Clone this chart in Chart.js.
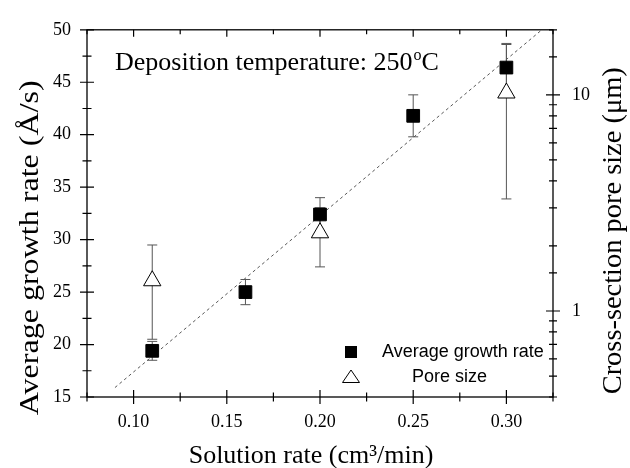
<!DOCTYPE html>
<html>
<head>
<meta charset="UTF-8">
<title>Growth rate vs solution rate</title>
<script src="https://cdn.jsdelivr.net/npm/chart.js@4"></script>
<style>
  html, body { margin: 0; padding: 0; background: #fff; }
  #wrap { width: 630px; height: 468px; position: relative; }
</style>
</head>
<body>
<div id="wrap"><canvas id="chart"></canvas></div>
<script>
// data
const solutionRate = [0.11, 0.16, 0.20, 0.25, 0.30];
const growthRate   = [19.4, 25.0, 32.4, 41.8, 46.4];
const growthErr    = [0.9, 1.2, 1.6, 2.0, 2.3];
const poreRate     = [0.11, 0.20, 0.30];
const poreSize     = [1.38, 2.30, 10.2];
const poreErr      = [0.64, 0.70, 6.9];
const fitRate      = [0.09, 0.319];
const fitGrowth    = [15.9, 50];
const xTickLabels  = ['0.10', '0.15', '0.20', '0.25', '0.30'];
const yTickLabels  = [15, 20, 25, 30, 35, 40, 45, 50];
const poreTickLabels = [1, 10];

const serif = "'Liberation Serif', 'Times New Roman', serif";
const sans = "'Liberation Sans', Arial, sans-serif";
const near = (a, b) => Math.abs(a - b) < 1e-6;

const errorBars = {
  id: 'errorBars',
  beforeDatasetDraw(chart, args) {
    if (args.index !== 1) return;
    const { ctx, scales } = chart;
    const x = scales.x;
    const draw = (xs, ys, es, yScale) => {
      xs.forEach((v, i) => {
        const px = x.getPixelForValue(v);
        const top = yScale.getPixelForValue(ys[i] + es[i]);
        const bot = yScale.getPixelForValue(ys[i] - es[i]);
        ctx.beginPath();
        ctx.moveTo(px, top); ctx.lineTo(px, bot);
        ctx.moveTo(px - 5, top); ctx.lineTo(px + 5, top);
        ctx.moveTo(px - 5, bot); ctx.lineTo(px + 5, bot);
        ctx.stroke();
      });
    };
    ctx.save();
    ctx.strokeStyle = '#555';
    ctx.lineWidth = 1;
    draw(solutionRate, growthRate, growthErr, scales.y);
    draw(poreRate, poreSize, poreErr, scales.y2);
    ctx.restore();
  }
};

// rotated title, stretched along its length to the span seen in the figure
function sideTitle(ctx, text, x, y, span) {
  ctx.save();
  ctx.translate(x, y);
  ctx.rotate(-Math.PI / 2);
  const w = ctx.measureText(text).width;
  ctx.scale(span / w, 1);
  ctx.fillText(text, 0, 0);
  ctx.restore();
}

const frame = {
  id: 'frame',
  afterDraw(chart) {
    const { ctx, chartArea: ca, scales } = chart;
    ctx.save();
    ctx.strokeStyle = '#000';
    ctx.lineWidth = 1.3;
    ctx.strokeRect(ca.left, ca.top, ca.right - ca.left, ca.bottom - ca.top);

    ctx.lineWidth = 1.2;
    ctx.beginPath();
    scales.x.ticks.forEach(t => {
      const px = scales.x.getPixelForValue(t.value);
      const major = near(Math.round(t.value * 20), t.value * 20);
      const len = major ? 7 : 4.5;
      ctx.moveTo(px, ca.bottom - len); ctx.lineTo(px, ca.bottom + len);
      ctx.moveTo(px, ca.top); ctx.lineTo(px, ca.top + len);
    });
    scales.y.ticks.forEach(t => {
      const py = scales.y.getPixelForValue(t.value);
      const len = near(t.value % 5, 0) ? 7 : 4.5;
      ctx.moveTo(ca.left - len, py); ctx.lineTo(ca.left + len, py);
    });
    scales.y2.ticks.forEach(t => {
      const py = scales.y2.getPixelForValue(t.value);
      const lg = Math.log10(t.value);
      const len = near(lg, Math.round(lg)) ? 7 : 4;
      ctx.moveTo(ca.right - len, py); ctx.lineTo(ca.right + len, py);
    });
    ctx.stroke();

    // axis titles
    ctx.fillStyle = '#000';
    ctx.font = '26px ' + serif;
    ctx.textAlign = 'center';
    ctx.textBaseline = 'alphabetic';
    ctx.fillText('Solution rate (cm\u00B3/min)', ca.left + 224, ca.bottom + 66);

    ctx.font = '27px ' + serif;
    sideTitle(ctx, 'Average growth rate (\u00C5/s)', 38, ca.top + 218, 335);
    sideTitle(ctx, 'Cross-section pore size (\u03BCm)', ca.right + 68, ca.top + 201, 327);

    // annotation
    ctx.textAlign = 'left';
    ctx.font = '26px ' + serif;
    const label = 'Deposition temperature: 250';
    const ax = ca.left + 28, ay = ca.top + 40;
    ctx.fillText(label, ax, ay);
    const w1 = ctx.measureText(label).width;
    ctx.font = '16px ' + serif;
    ctx.fillText('o', ax + w1 + 1, ay - 10);
    const w2 = ctx.measureText('o').width;
    ctx.font = '26px ' + serif;
    ctx.fillText('C', ax + w1 + w2 + 1, ay);

    // legend
    const lx = ca.right - 202, ly1 = ca.bottom - 45, ly2 = ca.bottom - 20;
    ctx.fillStyle = '#000';
    ctx.fillRect(lx - 6, ly1 - 6, 12, 12);
    ctx.beginPath();
    ctx.moveTo(lx, ly2 - 7);
    ctx.lineTo(lx + 8.5, ly2 + 5.5);
    ctx.lineTo(lx - 8.5, ly2 + 5.5);
    ctx.closePath();
    ctx.fillStyle = '#fff';
    ctx.fill();
    ctx.lineWidth = 1;
    ctx.stroke();
    ctx.fillStyle = '#000';
    ctx.font = '18px ' + sans;
    ctx.textBaseline = 'middle';
    ctx.fillText('Average growth rate', ca.right - 171, ly1);
    ctx.fillText('Pore size', ca.right - 141, ly2);
    ctx.restore();
  }
};

const tickFont = { family: serif, size: 18 };

new Chart(document.getElementById('chart'), {
  type: 'scatter',
  data: {
    datasets: [
      {
        label: 'Pore size',
        data: poreRate.map((x, i) => ({ x, y: poreSize[i] })),
        yAxisID: 'y2',
        pointStyle: 'triangle',
        pointRadius: 10,
        backgroundColor: '#fff',
        borderColor: '#000',
        borderWidth: 1,
        order: 1
      },
      {
        label: 'Average growth rate',
        data: solutionRate.map((x, i) => ({ x, y: growthRate[i] })),
        yAxisID: 'y',
        pointStyle: 'rect',
        pointRadius: 9,
        backgroundColor: '#000',
        borderColor: '#000',
        borderWidth: 1,
        order: 2
      },
      {
        label: 'Fit',
        type: 'line',
        data: fitRate.map((x, i) => ({ x, y: fitGrowth[i] })),
        yAxisID: 'y',
        borderColor: '#444',
        borderWidth: 0.9,
        borderDash: [3, 3],
        pointRadius: 0,
        fill: false,
        order: 3
      }
    ]
  },
  options: {
    responsive: true,
    maintainAspectRatio: false,
    animation: false,
    layout: { padding: { top: 22, left: 0, right: 0, bottom: 0 } },
    plugins: { legend: { display: false }, tooltip: { enabled: false } },
    scales: {
      x: {
        type: 'linear', min: 0.075, max: 0.325,
        grid: { display: false, drawTicks: false },
        border: { display: false },
        ticks: {
          stepSize: 0.025, autoSkip: false, maxRotation: 0, padding: 14,
          color: '#000', font: tickFont,
          callback: v => xTickLabels.find(l => near(parseFloat(l), v)) || ''
        },
        afterFit: s => { s.height = 71; }
      },
      y: {
        type: 'linear', position: 'left', min: 15, max: 50,
        grid: { display: false, drawTicks: false },
        border: { display: false },
        ticks: {
          stepSize: 2.5, autoSkip: false, padding: 16,
          color: '#000', font: tickFont,
          callback: v => yTickLabels.some(l => near(l, v)) ? String(v) : ''
        },
        afterFit: s => { s.width = 87; }
      },
      y2: {
        type: 'logarithmic', position: 'right', min: 0.4, max: 20,
        grid: { display: false, drawTicks: false },
        border: { display: false },
        ticks: {
          autoSkip: false, padding: 19,
          color: '#000', font: tickFont,
          callback: v => poreTickLabels.some(l => near(l, v)) ? String(v) : ''
        },
        afterFit: s => { s.width = 77; }
      }
    }
  },
  plugins: [errorBars, frame]
});
</script>
</body>
</html>
